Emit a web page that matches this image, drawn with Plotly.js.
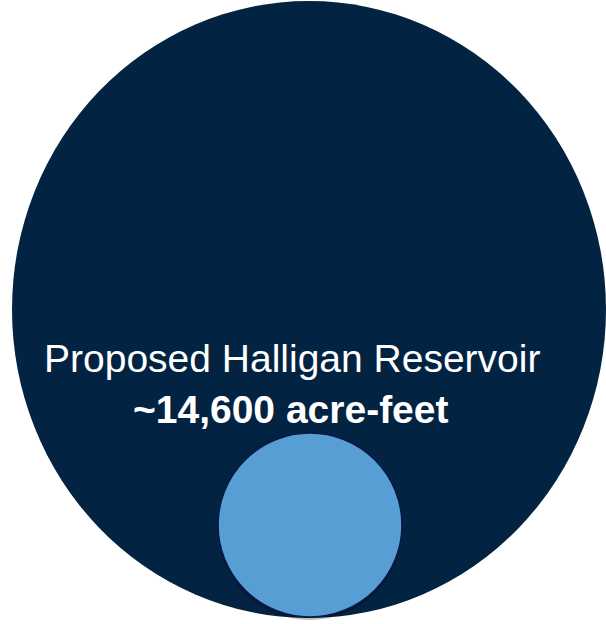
<!DOCTYPE html>
<html>
<head>
<meta charset="utf-8">
<script src="https://cdn.plot.ly/plotly-3.0.1.min.js"></script>
<style>html,body{margin:0;padding:0;background:#fff;}#chart{width:606px;height:624px;}</style>
</head>
<body>
<div id="chart"></div>
<script>
// Data
const reservoirNames = ['Proposed Halligan Reservoir', 'Comparison reservoir'];
const volumesAcreFeet = [14600, 1400];
const volumeLabels = ['~14,600 acre-feet', ''];

// Layout geometry (pixel-like data units)
const W = 606, H = 624;
const bigCx = 309, bigCy = 309.5, bigRx = 297, bigRy = 308.5;
const fills = ['#022341', '#569ED4'];

const shapes = [];
// big circle
shapes.push({type:'circle', xref:'x', yref:'y',
  x0: bigCx - bigRx, x1: bigCx + bigRx, y0: bigCy - bigRy, y1: bigCy + bigRy,
  fillcolor: fills[0], line:{width:0}, layer:'below'});
// small circle: radius by area relative to big
const rSmall = bigRx * Math.sqrt(volumesAcreFeet[1] / volumesAcreFeet[0]);
const bottom = bigCy + bigRy;
const smallCx = 310, smallCy = bottom - rSmall - 1;
// soft shadow
shapes.push({type:'circle', xref:'x', yref:'y',
  x0: smallCx - rSmall, x1: smallCx + rSmall, y0: smallCy - rSmall + 3, y1: smallCy + rSmall + 3,
  fillcolor: 'rgba(0,0,0,0.25)', line:{width:0}, layer:'below'});
shapes.push({type:'circle', xref:'x', yref:'y',
  x0: smallCx - rSmall, x1: smallCx + rSmall, y0: smallCy - rSmall, y1: smallCy + rSmall,
  fillcolor: fills[1], line:{width:1.5, color:'#0b1845'}, layer:'below'});

const annotations = [
  {x: 291.5, y: 358, xref:'x', yref:'y', text: reservoirNames[0], showarrow:false,
   font:{family:'Liberation Sans, Arial, sans-serif', size:39, color:'#ffffff'}, xanchor:'center', yanchor:'middle'},
  {x: 291, y: 409, xref:'x', yref:'y', text: '<b>' + volumeLabels[0] + '</b>', showarrow:false,
   font:{family:'Liberation Sans, Arial, sans-serif', size:39, color:'#ffffff'}, xanchor:'center', yanchor:'middle'}
];

const layout = {
  width: W, height: H,
  margin:{l:0,r:0,t:0,b:0,pad:0},
  paper_bgcolor:'#ffffff', plot_bgcolor:'#ffffff',
  xaxis:{range:[0,W], visible:false, fixedrange:true},
  yaxis:{range:[H,0], visible:false, fixedrange:true},
  shapes: shapes, annotations: annotations, showlegend:false
};
Plotly.newPlot('chart', [{x:[], y:[], type:'scatter', mode:'markers', hoverinfo:'skip'}], layout, {staticPlot:true, displayModeBar:false});
</script>
</body>
</html>
